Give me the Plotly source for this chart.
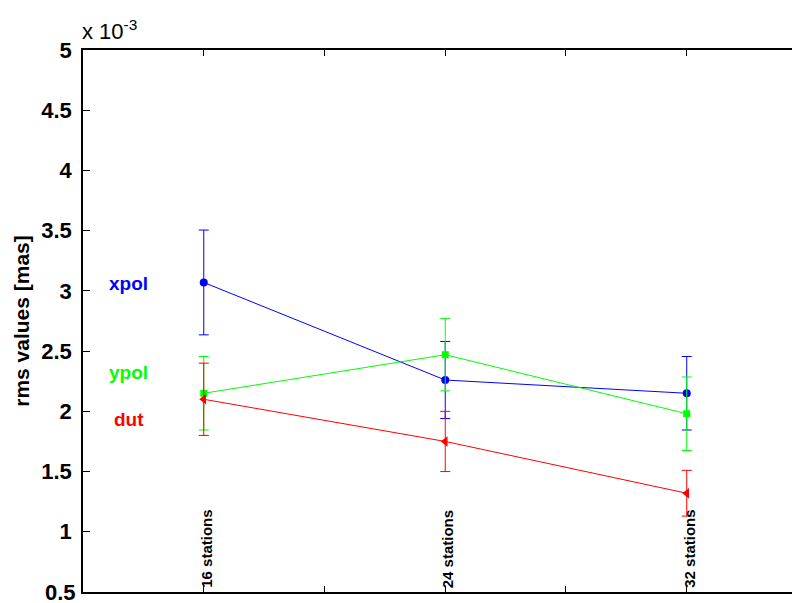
import plotly.graph_objects as go

# Data (values in units of 1e-3 mas)
stations = ["16 stations", "24 stations", "32 stations"]
x_pos = [1, 2, 3]

xpol = [3.07, 2.26, 2.15]
xpol_err = [0.435, 0.32, 0.305]

ypol = [2.15, 2.47, 1.98]
ypol_err = [0.305, 0.30, 0.305]

dut = [2.10, 1.75, 1.32]
dut_err = [0.30, 0.25, 0.19]

y_ticks = [0.5, 1, 1.5, 2, 2.5, 3, 3.5, 4, 4.5, 5]
y_ticktext = ["0.5", "1", "1.5", "2", "2.5", "3", "3.5", "4", "4.5", "5"]

FONT = "Liberation Sans, Arial, Helvetica, sans-serif"

series = [
    ("xpol", xpol, xpol_err, "#0000FF", "circle", 8),
    ("ypol", ypol, ypol_err, "#00FF00", "square", 7),
    ("dut", dut, dut_err, "#FF0000", "triangle-left", 9),
]

fig = go.Figure()
for name, vals, errs, color, sym, sz in series:
    fig.add_trace(go.Scatter(
        x=x_pos, y=vals, name=name, mode="lines+markers",
        line=dict(color=color, width=1),
        marker=dict(color=color, symbol=sym, size=sz),
        error_y=dict(type="data", array=errs, visible=True,
                     color=color, thickness=1, width=5),
        showlegend=False,
    ))

# series labels
label_pos = {"xpol": 3.06, "ypol": 2.32, "dut": 1.93}
for name, vals, errs, color, sym, sz in series:
    fig.add_annotation(x=0.69, y=label_pos[name], text="<b>%s</b>" % name,
                       showarrow=False, xref="x", yref="y",
                       font=dict(family=FONT, size=19, color=color))

# station labels (rotated)
for xp, s in zip(x_pos, stations):
    fig.add_annotation(x=xp, y=0.5, text="<b>%s</b>" % s, textangle=-90,
                       showarrow=False, xref="x", yref="y",
                       xanchor="center", yanchor="bottom", xshift=2, yshift=2,
                       font=dict(family=FONT, size=15, color="black"))

# exponent label
fig.add_annotation(x=0, y=1, xref="paper", yref="paper", xanchor="left",
                   yanchor="bottom", showarrow=False, xshift=-3, yshift=4,
                   text="x 10<sup>-3</sup>",
                   font=dict(family=FONT, size=22, color="black"))

# lowest tick label (plotly drops it at the figure edge), drawn as text
fig.add_annotation(x=0, y=y_ticks[0], xref="paper", yref="y", xanchor="right",
                   yanchor="middle", showarrow=False, xshift=-5,
                   text="<b>%s</b>" % y_ticktext[0],
                   font=dict(family=FONT, size=22, color="black"))

# the page adds an 8 px body margin, so the figure is 792x595
fig.update_layout(
    width=792, height=595,
    margin=dict(l=75, r=0, t=42, b=11, pad=0),
    paper_bgcolor="white", plot_bgcolor="white",
    font=dict(family=FONT, color="black"),
    xaxis=dict(range=[0.5, 3.469], tickvals=[1, 1.5, 2, 2.5, 3],
               showticklabels=False, ticks="inside", ticklen=6,
               tickcolor="black", tickwidth=1, showgrid=False, zeroline=False,
               showline=True, linecolor="black", linewidth=1.5, mirror="ticks"),
    yaxis=dict(range=[0.5, 5], tickvals=y_ticks[1:], ticktext=y_ticktext[1:],
               ticks="inside", ticklen=7, tickcolor="black", tickwidth=1,
               showgrid=False, zeroline=False, showline=True,
               linecolor="black", linewidth=1.5, mirror=False,
               ticklabelstandoff=5,
               tickfont=dict(family=FONT, size=22, color="black", weight="bold"),
               title=dict(text="<b>rms values [mas]</b>", standoff=6,
                          font=dict(family=FONT, size=21, color="black"))),
)

fig.write_html("out.html")
